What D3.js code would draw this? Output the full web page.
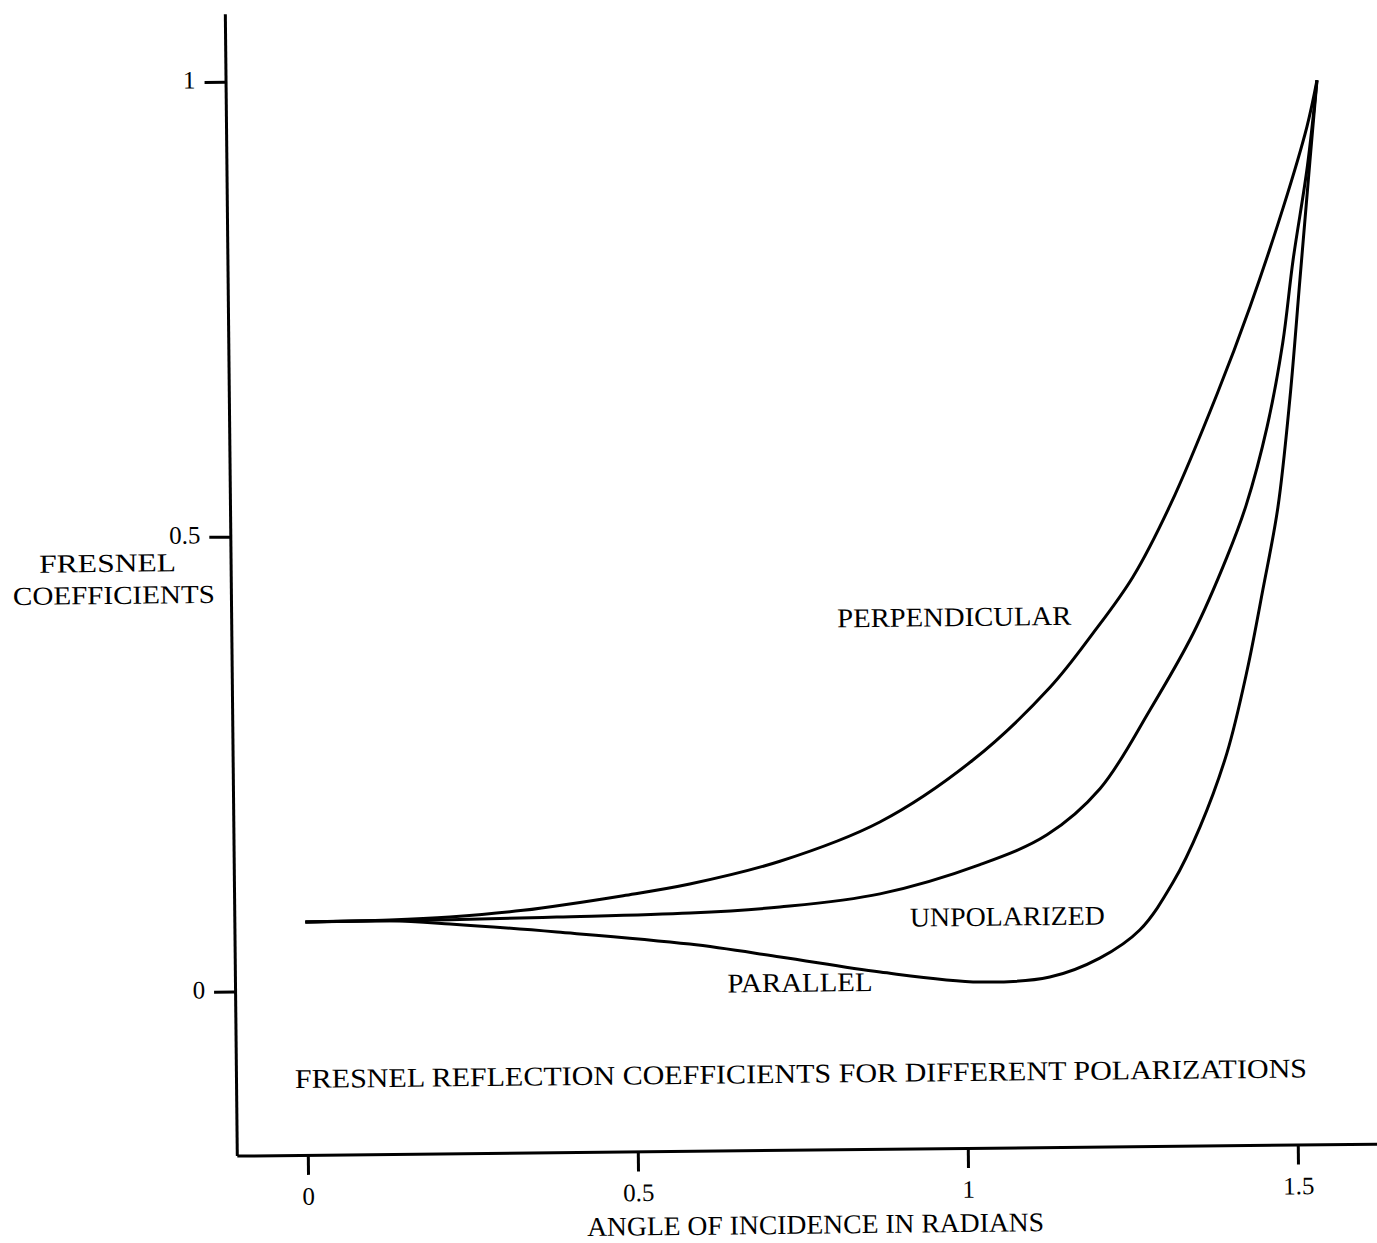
<!DOCTYPE html>
<html>
<head>
<meta charset="utf-8">
<script src="https://cdn.jsdelivr.net/npm/d3@7"></script>
<style>
  body { margin: 0; background: #fff; }
  svg { display: block; }
  text { font-family: 'Liberation Serif', 'Times New Roman', serif; fill: #000; }
</style>
</head>
<body>
<svg width="1377" height="1243"></svg>
<script>
// values (angle in radians, coefficient)
const perpX = [0, 0.128, 0.219, 0.330, 0.482, 0.583, 0.720, 0.872, 1.014, 1.132, 1.198, 1.259, 1.317, 1.390, 1.441, 1.493, 1.530, 1.546];
const perpY = [0.0757, 0.077, 0.0796, 0.086, 0.101, 0.113, 0.137, 0.179, 0.246, 0.325, 0.384, 0.445, 0.524, 0.646, 0.741, 0.850, 0.938, 0.989];

const unpolX = [0, 0.128, 0.219, 0.381, 0.583, 0.719, 0.871, 1.023, 1.125, 1.206, 1.283, 1.350, 1.402, 1.432, 1.465, 1.490, 1.507, 1.530, 1.546];
const unpolY = [0.0757, 0.0762, 0.0765, 0.0782, 0.0811, 0.0867, 0.100, 0.131, 0.163, 0.213, 0.299, 0.383, 0.466, 0.523, 0.609, 0.701, 0.792, 0.894, 0.989];

const parX = [0, 0.128, 0.219, 0.381, 0.582, 0.719, 0.870, 1.021, 1.127, 1.203, 1.264, 1.315, 1.357, 1.399, 1.431, 1.456, 1.480, 1.500, 1.517, 1.534, 1.546];
const parY = [0.0757, 0.076, 0.0719, 0.0618, 0.047, 0.0318, 0.0141, 0.002, 0.0067, 0.0269, 0.0573, 0.109, 0.170, 0.251, 0.342, 0.430, 0.520, 0.640, 0.770, 0.900, 0.989];

const xTicks = [0, 0.5, 1, 1.5];
const yTicks = [0, 0.5, 1];

const curveLabels = ['PERPENDICULAR', 'UNPOLARIZED', 'PARALLEL'];
const yTitle = ['FRESNEL', 'COEFFICIENTS'];
const xTitle = 'ANGLE OF INCIDENCE IN RADIANS';
const chartTitle = 'FRESNEL REFLECTION COEFFICIENTS FOR DIFFERENT POLARIZATIONS';

const svg = d3.select('svg');

// the scan is tilted a little, so the whole plot is turned slightly
const g = svg.append('g').attr('transform', 'rotate(-0.6, 770, 600)');

const xScale = d3.scaleLinear().domain([-0.1076, 1.6636]).range([231, 1400]);
const yScale = d3.scaleLinear().domain([-0.18022, 1.07473]).range([1150, 8]);

const yAxis = d3.axisLeft(yScale)
  .tickValues(yTicks)
  .tickFormat(d3.format('~g'))
  .tickSize(21)
  .tickSizeOuter(0)
  .tickPadding(9);

const xAxis = d3.axisBottom(xScale)
  .tickValues(xTicks)
  .tickFormat(d3.format('~g'))
  .tickSize(20)
  .tickSizeOuter(0)
  .tickPadding(6);

const yg = g.append('g').attr('transform', 'translate(231, 0)').call(yAxis);
const xg = g.append('g').attr('transform', 'translate(0, 1150)').call(xAxis);

[yg, xg].forEach((a) => {
  a.attr('font-family', null).attr('font-size', null);
  a.selectAll('.domain, .tick line').attr('stroke', '#000').attr('stroke-width', 3);
  a.selectAll('.tick text').attr('font-size', 25).attr('fill', '#000');
});
yg.selectAll('.tick text').attr('dy', '0.24em');
xg.selectAll('.tick text').attr('dy', '0.95em');

const series = [
  { x: perpX, y: perpY },
  { x: unpolX, y: unpolY },
  { x: parX, y: parY },
];

const line = d3.line()
  .x((d) => xScale(d[0]))
  .y((d) => yScale(d[1]))
  .curve(d3.curveCatmullRom.alpha(0.5));

g.selectAll('path.curve')
  .data(series)
  .enter()
  .append('path')
  .attr('class', 'curve')
  .attr('d', (s) => line(d3.zip(s.x, s.y)))
  .attr('fill', 'none')
  .attr('stroke', '#000')
  .attr('stroke-width', 3)
  .attr('stroke-linejoin', 'round');

// curve labels
const labelPos = [
  { x: 954, y: 628, w: 234 },
  { x: 1004, y: 928, w: 195 },
  { x: 796, y: 992, w: 145 },
];
g.selectAll('text.clabel')
  .data(curveLabels)
  .enter()
  .append('text')
  .attr('class', 'clabel')
  .attr('x', (d, i) => labelPos[i].x - labelPos[i].w / 2)
  .attr('y', (d, i) => labelPos[i].y)
  .attr('font-size', 27)
  .attr('textLength', (d, i) => labelPos[i].w)
  .attr('lengthAdjust', 'spacingAndGlyphs')
  .text((d) => d);

// y title, two lines
const yTitlePos = [
  { x: 108, y: 565, w: 137 },
  { x: 114, y: 597, w: 202 },
];
g.selectAll('text.ytitle')
  .data(yTitle)
  .enter()
  .append('text')
  .attr('class', 'ytitle')
  .attr('x', (d, i) => yTitlePos[i].x - yTitlePos[i].w / 2)
  .attr('y', (d, i) => yTitlePos[i].y)
  .attr('font-size', 26)
  .attr('textLength', (d, i) => yTitlePos[i].w)
  .attr('lengthAdjust', 'spacingAndGlyphs')
  .text((d) => d);

g.append('text')
  .attr('x', 809 - 457 / 2)
  .attr('y', 1234)
  .attr('font-size', 27)
  .attr('textLength', 457)
  .attr('lengthAdjust', 'spacingAndGlyphs')
  .text(xTitle);

g.append('text')
  .attr('x', 796 - 1012 / 2)
  .attr('y', 1083)
  .attr('font-size', 27)
  .attr('textLength', 1012)
  .attr('lengthAdjust', 'spacingAndGlyphs')
  .text(chartTitle);
</script>
</body>
</html>
